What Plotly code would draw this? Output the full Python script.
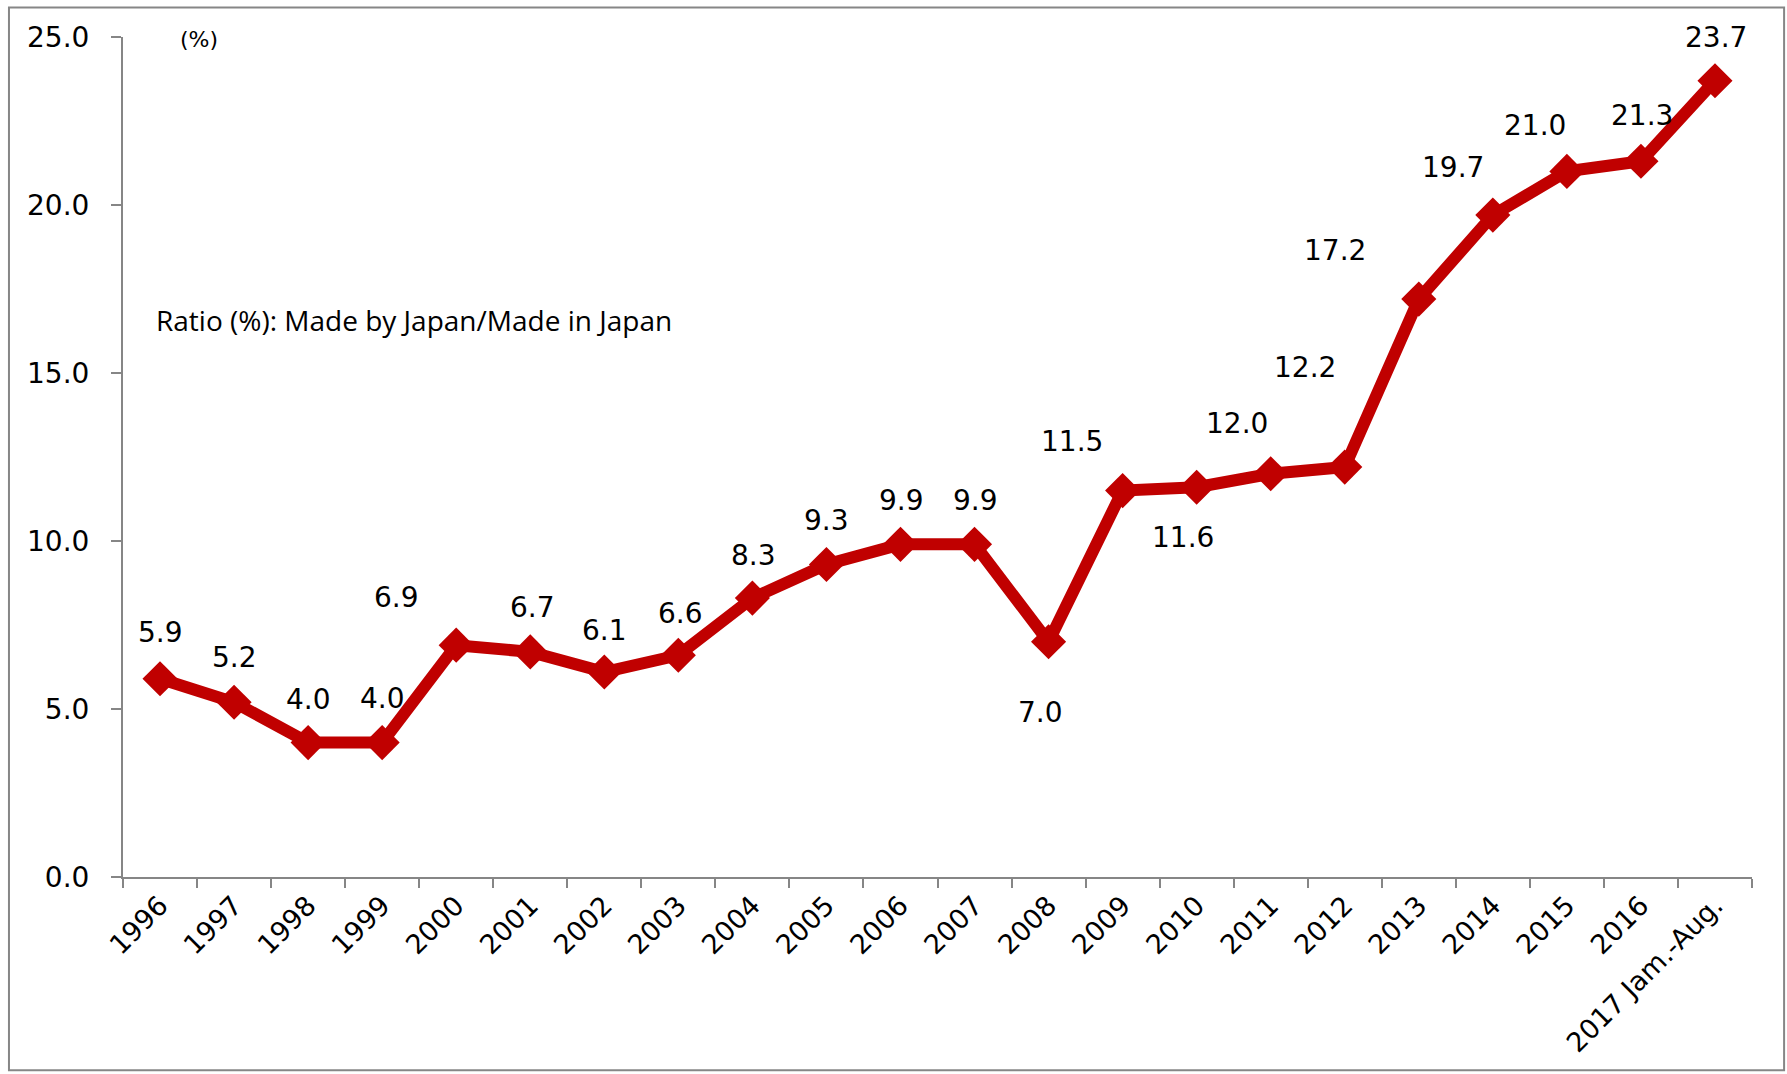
import plotly.graph_objects as go

categories = ["1996", "1997", "1998", "1999", "2000", "2001", "2002", "2003",
              "2004", "2005", "2006", "2007", "2008", "2009", "2010", "2011",
              "2012", "2013", "2014", "2015", "2016", "2017 Jam.-Aug."]
ratio = [5.9, 5.2, 4.0, 4.0, 6.9, 6.7, 6.1, 6.6, 8.3, 9.3, 9.9, 9.9,
         7.0, 11.5, 11.6, 12.0, 12.2, 17.2, 19.7, 21.0, 21.3, 23.7]
y_ticks = [0, 5, 10, 15, 20, 25]

# label offsets in pixels (dx, dy-up) -- styling only
label_dx = [0, 0, 0, 0, -60, 2, 0, 2, 1, 0, 1, 1, -8, -51, -14, -34, -40, -84, -40, -32, 1, 1]
label_dy = [46, 45, 43, 44, 48, 44, 42, 42, 43, 44, 44, 44, -71, 49, -50, 50, 100, 49, 48, 46, 46, 43]

RED = "#C00000"
GREY = "#868686"
NUM_FONT = dict(family="DejaVu Sans", size=28, color="#000000")

fig = go.Figure()
fig.add_trace(go.Scatter(
    x=categories, y=ratio, mode="lines+markers",
    line=dict(color=RED, width=12),
    marker=dict(symbol="diamond", size=27, color=RED),
    hoverinfo="skip", showlegend=False,
))

annotations = []
for i, (v, dx, dy) in enumerate(zip(ratio, label_dx, label_dy)):
    annotations.append(dict(
        x=i, y=v, xref="x", yref="y", text=f"{v:.1f}", showarrow=False,
        xshift=dx, yshift=dy, font=NUM_FONT,
    ))

annotations.append(dict(
    x=0.0467, y=0.997, xref="paper", yref="paper", text="(%)", showarrow=False,
    xanchor="center", yanchor="middle",
    font=dict(family="DejaVu Sans", size=22, color="#000000"),
))
annotations.append(dict(
    x=0.019, y=0.663, xref="paper", yref="paper",
    text="Ratio (%): Made by Japan/Made in Japan", showarrow=False,
    xanchor="left", yanchor="middle",
    font=dict(family="Open Sans", size=28, color="#000000"),
))

fig.update_layout(
    width=1787, height=1074,
    margin=dict(l=123, r=35, t=37, b=197, autoexpand=False),
    paper_bgcolor="white", plot_bgcolor="white",
    annotations=annotations,
    shapes=[dict(type="rect", xref="paper", yref="paper",
                 x0=-0.0700, x1=1.0197, y0=-0.2301, y1=1.0351,
                 line=dict(color=GREY, width=2), fillcolor="rgba(0,0,0,0)",
                 layer="below")],
)

fig.update_xaxes(
    type="category", range=[-0.5, len(categories) - 0.5],
    tickson="boundaries", ticks="outside", ticklen=9, tickwidth=2, tickcolor=GREY,
    showline=True, linecolor=GREY, linewidth=2, showgrid=False, zeroline=False,
    tickangle=-45, tickfont=dict(family="DejaVu Sans", size=27, color="#000000"),
    automargin=False,
)
fig.update_yaxes(
    range=[0, 25], tickvals=y_ticks, tickformat=".1f",
    ticks="outside", ticklen=10, tickwidth=2, tickcolor=GREY,
    showline=True, linecolor=GREY, linewidth=2, showgrid=False, zeroline=False,
    tickfont=dict(family="DejaVu Sans", size=28, color="#000000"),
    ticklabelstandoff=16, automargin=False,
)

fig.write_html("out.html")
